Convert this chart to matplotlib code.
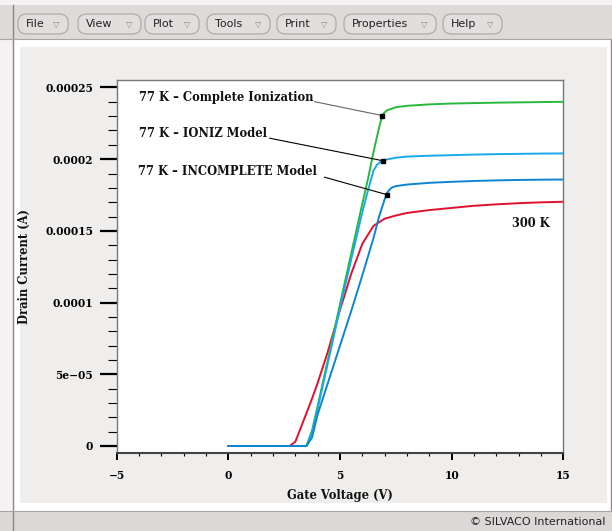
import numpy as np
import matplotlib
matplotlib.use("Agg")
import matplotlib.pyplot as plt
from matplotlib.patches import Rectangle, FancyBboxPatch

W, H = 612, 531

# drain current vs gate voltage
vg_complete = [0, 3.5, 3.75, 4.0, 4.5, 5.0, 5.5, 6.0, 6.25, 6.5, 6.75, 6.9, 7.1, 7.5, 8, 9, 10, 11, 12, 13, 14, 15]
id_complete = [0, 0, 1.1e-5, 2.8e-5, 6.3e-5, 9.9e-5, 1.34e-4, 1.69e-4, 1.86e-4, 2.05e-4, 2.22e-4, 2.31e-4,
               2.34e-4, 2.362e-4, 2.372e-4, 2.382e-4, 2.388e-4, 2.391e-4, 2.394e-4, 2.396e-4, 2.398e-4, 2.40e-4]

vg_ioniz = [0, 3.5, 3.75, 4.0, 4.5, 5.0, 5.5, 6.0, 6.25, 6.5, 6.65, 6.8, 7.0, 7.5, 8, 9, 10, 11, 12, 13, 14, 15]
id_ioniz = [0, 0, 9e-6, 2.6e-5, 6.1e-5, 9.6e-5, 1.3e-4, 1.63e-4, 1.78e-4, 1.92e-4, 1.96e-4, 1.98e-4,
            1.995e-4, 2.01e-4, 2.018e-4, 2.024e-4, 2.028e-4, 2.032e-4, 2.035e-4, 2.037e-4, 2.039e-4, 2.04e-4]

vg_incomplete = [0, 3.5, 3.75, 4.0, 4.5, 5.0, 5.5, 6.0, 6.5, 6.75, 7.0, 7.15, 7.3, 7.5, 8, 9, 10, 11, 12, 13, 14, 15]
id_incomplete = [0, 0, 6e-6, 2.2e-5, 4.6e-5, 7.0e-5, 9.4e-5, 1.19e-4, 1.45e-4, 1.6e-4, 1.72e-4, 1.775e-4,
                 1.80e-4, 1.812e-4, 1.823e-4, 1.835e-4, 1.842e-4, 1.848e-4, 1.852e-4, 1.855e-4, 1.857e-4, 1.858e-4]

vg_300k = [0, 2.75, 3.0, 3.25, 3.5, 3.78, 4.0, 4.44, 5.0, 5.28, 5.5, 6.0, 6.5, 7.0, 7.5, 8, 9, 10, 11, 12, 13, 14, 15]
id_300k = [0, 0, 3e-6, 1.3e-5, 2.3e-5, 3.44e-5, 4.4e-5, 6.5e-5, 9.5e-5, 1.088e-4, 1.2e-4, 1.41e-4, 1.535e-4,
           1.585e-4, 1.607e-4, 1.625e-4, 1.645e-4, 1.66e-4, 1.675e-4, 1.685e-4, 1.693e-4, 1.699e-4, 1.703e-4]

# annotation labels: text position, where the leader starts, and Vg of the marker on the curve
labels = ["77 K \u2013 Complete Ionization", "77 K \u2013 IONIZ Model", "77 K \u2013 INCOMPLETE Model"]
label_xy = [(-4.0, 2.429e-4), (-4.0, 2.181e-4), (-4.03, 1.913e-4)]
leader_start = [(3.86, 2.401e-4), (1.85, 2.146e-4), (4.31, 1.874e-4)]
marker_vg = [6.89, 6.92, 7.09]

xticks = [-5, 0, 5, 10, 15]
yticks = [0, 5e-5, 1e-4, 1.5e-4, 2e-4, 2.5e-4]
ytick_labels = ["0", "5e\u221205", "0.0001", "0.00015", "0.0002", "0.00025"]

menu_items = ["File", "View", "Plot", "Tools", "Print", "Properties", "Help"]
menu_x = [(18, 68), (78, 141), (145, 199), (207, 270), (277, 336), (344, 436), (443, 502)]


def fx(px):
    return px / W


def fy(py):
    return 1 - py / H


def rect(fig, x0, y0, x1, y1, color):
    fig.add_artist(Rectangle((fx(x0), fy(y1)), fx(x1 - x0), (y1 - y0) / H, transform=fig.transFigure,
                             facecolor=color, edgecolor="none", zorder=-5))


def vline(fig, x, y0, y1, color):
    fig.add_artist(plt.Line2D([fx(x), fx(x)], [fy(y0), fy(y1)], transform=fig.transFigure,
                              color=color, lw=1, zorder=-4))


def hline(fig, y, color):
    fig.add_artist(plt.Line2D([0, 1], [fy(y), fy(y)], transform=fig.transFigure,
                              color=color, lw=0.8, zorder=-4))


fig = plt.figure(figsize=(W / 100, H / 100), dpi=100)
fig.patch.set_facecolor("#f4f2f2")

# window chrome
rect(fig, 0, 5, W, 39, "#dedada")
rect(fig, 13, 39, 611, 511, "#ffffff")
rect(fig, 20, 47, 607, 503, "#f0eeec")
rect(fig, 0, 511, W, H, "#dcd8d8")
vline(fig, 13, 5, H, "#8a8686")
vline(fig, 611, 39, 511, "#8a8686")
hline(fig, 39, "#a8a4a4")
hline(fig, 511, "#a8a4a4")

for name, (x0, x1) in zip(menu_items, menu_x):
    fig.add_artist(FancyBboxPatch((fx(x0), fy(34)), fx(x1 - x0), 20 / H,
                                  boxstyle="round,pad=0,rounding_size=0.015",
                                  transform=fig.transFigure, facecolor="#e2dede", edgecolor="#aaa6a6", lw=0.8))
    fig.text(fx(x0 + 8), fy(24), name, fontsize=8, color="#222222", family="DejaVu Sans", va="center")
    fig.text(fx(x1 - 15), fy(24), "\u25bd", fontsize=6, color="#8c8888", family="DejaVu Sans", va="center")

fig.text(fx(605), fy(522), "\u00a9 SILVACO International", fontsize=8, color="#222222",
         family="DejaVu Sans", ha="right", va="center")

# plot area
ax = fig.add_axes([fx(116.7), fy(453.3), fx(563.3 - 116.7), (453.3 - 80) / H])
ax.set_zorder(10)
ax.set_facecolor("white")

ax.plot(vg_300k, id_300k, color="#e0102f", lw=1.4)
ax.plot(vg_complete, id_complete, color="#28b83c", lw=1.4)
ax.plot(vg_ioniz, id_ioniz, color="#1aa8ec", lw=1.4)
ax.plot(vg_incomplete, id_incomplete, color="#0d84d2", lw=1.4)

curves = [(vg_complete, id_complete), (vg_ioniz, id_ioniz), (vg_incomplete, id_incomplete)]
serif = dict(family="DejaVu Serif", fontweight="bold", color="#111111")
for i, (text, (tx, ty), (sx, sy), mv) in enumerate(zip(labels, label_xy, leader_start, marker_vg)):
    vg, cur = curves[i]
    my = np.interp(mv, vg, cur)
    ax.text(tx, ty, text, fontsize=8.3, va="center", ha="left", **serif)
    ax.plot([sx, mv], [sy, my], color="#666666" if i == 0 else "black", lw=0.8)
    ax.plot([mv], [my], marker="s", color="black", markersize=3.5)

ax.text(12.72, 1.553e-4, "300 K", fontsize=8.3, va="center", ha="left", **serif)

ax.set_xlim(-5, 15)
ax.set_ylim(-5.1e-6, 2.552e-4)
ax.set_xticks(xticks)
ax.set_xticks(np.arange(-5, 16, 1), minor=True)
ax.set_yticks(yticks)
ax.set_yticklabels(ytick_labels)
ax.set_yticks(np.arange(0, 2.55e-4, 1e-5), minor=True)

ax.tick_params(axis="y", which="major", length=12, width=1.6, pad=5, labelsize=7.7)
ax.tick_params(axis="y", which="minor", length=6.5, width=0.8)
ax.tick_params(axis="x", which="major", length=5, width=1.4, pad=7, labelsize=7.7)
ax.tick_params(axis="x", which="minor", length=2.5, width=0.8)
for lab in ax.get_xticklabels() + ax.get_yticklabels():
    lab.set_family("DejaVu Serif")
    lab.set_fontweight("bold")

for side in ["top", "right", "left"]:
    ax.spines[side].set_color("#777777")
    ax.spines[side].set_linewidth(1)
ax.spines["bottom"].set_color("#444444")
ax.spines["bottom"].set_linewidth(1.5)

ax.set_xlabel("Gate Voltage (V)", fontsize=8.3, labelpad=6, **serif)
ax.set_ylabel("Drain Current (A)", fontsize=8.3, labelpad=10, **serif)

fig.savefig("out.png", dpi=100, facecolor=fig.get_facecolor())
